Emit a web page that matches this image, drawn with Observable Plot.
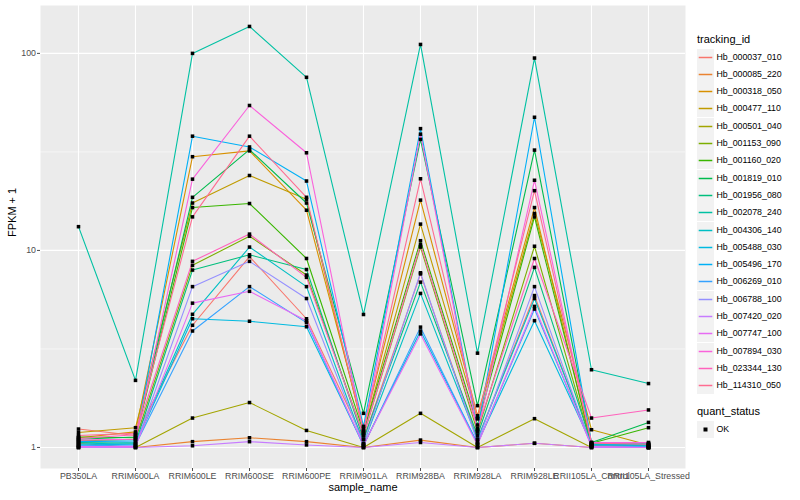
<!DOCTYPE html>
<html><head><meta charset="utf-8">
<script src="https://cdn.jsdelivr.net/npm/d3@7"></script>
<script src="https://cdn.jsdelivr.net/npm/@observablehq/plot@0.6"></script>
<style>
body{margin:0;background:#fff;font-family:"Liberation Sans",Arial,Helvetica,sans-serif;}
#wrap{position:relative;width:800px;height:500px;overflow:hidden;}
#chart{position:absolute;left:0;top:0;}
.lg{position:absolute;color:#000;white-space:nowrap;}
.lt{font-size:11px;}
.li{font-size:8.8px;}
.key{position:absolute;width:17px;height:17px;background:#F2F2F2;}
</style></head><body>
<div id="wrap"><div id="chart"></div><div id="legend"></div></div>
<script>
const samples = ["PB350LA","RRIM600LA","RRIM600LE","RRIM600SE","RRIM600PE","RRIM901LA","RRIM928BA","RRIM928LA","RRIM928LE","RRII105LA_Control","RRII105LA_Stressed"];
const trackingIds = ["Hb_000037_010","Hb_000085_220","Hb_000318_050","Hb_000477_110","Hb_000501_040","Hb_001153_090","Hb_001160_020","Hb_001819_010","Hb_001956_080","Hb_002078_240","Hb_004306_140","Hb_005488_030","Hb_005496_170","Hb_006269_010","Hb_006788_100","Hb_007420_020","Hb_007747_100","Hb_007894_030","Hb_023344_130","Hb_114310_050"];
const colors = ["#F8766D","#EA8331","#D89000","#C09B00","#A3A500","#7CAE00","#39B600","#00BB4E","#00BF7D","#00C1A3","#00BFC4","#00BAE0","#00B0F6","#35A2FF","#9590FF","#C77CFF","#E76BF3","#FA62DB","#FF62BC","#FF6C91"];
// FPKM + 1, one row per tracking_id, columns follow `samples`
const fpkm1 = [
  [1.24, 1.15, 4.17, 9.3, 4.5, 1.10, 7.6, 1.10, 5.9, 1.02, 1.00],
  [1.05, 1.00, 1.07, 1.12, 1.07, 1.00, 1.09, 1.00, 1.05, 1.00, 1.00],
  [1.12, 1.20, 29.9, 32.0, 16.0, 1.25, 18.0, 1.45, 16.5, 1.02, 1.00],
  [1.19, 1.26, 17.4, 24.0, 18.2, 1.20, 13.6, 1.40, 15.4, 1.23, 1.03],
  [1.00, 1.00, 1.41, 1.69, 1.22, 1.00, 1.49, 1.00, 1.40, 1.00, 1.00],
  [1.08, 1.10, 8.4, 11.8, 7.5, 1.15, 10.4, 1.20, 10.5, 1.03, 1.02],
  [1.13, 1.12, 16.5, 17.3, 9.1, 1.20, 11.2, 1.30, 14.8, 1.05, 1.26],
  [1.10, 1.13, 18.6, 32.5, 17.4, 1.49, 36.6, 1.63, 32.3, 1.06, 1.34],
  [1.06, 1.05, 7.95, 9.5, 8.0, 1.10, 6.9, 1.15, 8.2, 1.04, 1.04],
  [13.2, 2.19, 100, 137, 75.6, 4.73, 111, 3.01, 94.7, 2.48, 2.11],
  [1.04, 1.06, 4.74, 10.4, 6.55, 1.05, 6.05, 1.10, 5.7, 1.03, 1.02],
  [1.03, 1.04, 4.5, 4.37, 4.1, 1.03, 3.9, 1.05, 4.4, 1.04, 1.03],
  [1.07, 1.08, 38.0, 33.5, 22.5, 1.28, 41.5, 1.23, 47.4, 1.05, 1.05],
  [1.02, 1.03, 3.9, 6.55, 4.3, 1.02, 4.08, 1.04, 5.04, 1.02, 1.01],
  [1.00, 1.02, 6.55, 8.8, 5.7, 1.04, 7.7, 1.06, 6.55, 1.01, 1.00],
  [1.00, 1.00, 1.02, 1.07, 1.03, 1.00, 1.06, 1.00, 1.05, 1.00, 1.00],
  [1.01, 1.01, 5.4, 6.2, 4.4, 1.03, 3.77, 1.03, 5.2, 1.01, 1.00],
  [1.09, 1.10, 23.0, 54.4, 31.3, 1.18, 38.9, 1.20, 22.7, 1.06, 1.06],
  [1.11, 1.16, 8.8, 12.1, 7.3, 1.15, 10.7, 1.25, 9.1, 1.41, 1.55],
  [1.15, 1.18, 14.8, 38.0, 18.6, 1.22, 23.1, 1.40, 20.1, 1.05, 1.04]
];
const yTicks = [1, 10, 100];
const yMinor = [Math.sqrt(10), Math.sqrt(1000)];

const rows = [];
trackingIds.forEach((id, i) => samples.forEach((s, j) => rows.push({id, sample: s, value: fpkm1[i][j]})));

const chart = Plot.plot({
  width: 690, height: 500,
  marginLeft: 40, marginRight: 5, marginTop: 5, marginBottom: 32,
  style: {fontFamily: "Liberation Sans, Arial, sans-serif", background: "transparent"},
  x: {type: "point", domain: samples, padding: 0.6, label: null},
  y: {type: "log", domain: [0.782, 175], label: null},
  color: {domain: trackingIds, range: colors},
  marks: [
    Plot.frame({fill: "#EBEBEB", stroke: "none"}),
    Plot.ruleY(yMinor, {stroke: "white", strokeWidth: 0.55}),
    Plot.ruleY(yTicks, {stroke: "white", strokeWidth: 1.1}),
    Plot.ruleX(samples, {stroke: "white", strokeWidth: 1.1}),
    Plot.line(rows, {x: "sample", y: "value", z: "id", stroke: "id", strokeWidth: 1.1}),
    Plot.dot(rows, {x: "sample", y: "value", symbol: "square", r: 2, fill: "black", stroke: "none"}),
    Plot.axisY({ticks: yTicks, tickFormat: d => String(d), tickSize: 3, tickPadding: 1.5, fontSize: 8.8, color: "#4D4D4D", label: null}),
    Plot.axisX({tickSize: 3, tickPadding: 1.5, fontSize: 8.8, color: "#4D4D4D", label: null}),
    Plot.text(["FPKM + 1"], {text: d => d, frameAnchor: "left", dx: -28, rotate: -90, fontSize: 11, fill: "black"}),
    Plot.text(["sample_name"], {text: d => d, frameAnchor: "bottom", dy: 22.5, fontSize: 11, fill: "black"})
  ]
});
document.getElementById("chart").appendChild(chart);

// legend
const lg = document.getElementById("legend");
function add(html, cls, left, top) {
  const d = document.createElement("div");
  d.className = cls; d.style.left = left + "px"; d.style.top = top + "px";
  d.innerHTML = html; lg.appendChild(d); return d;
}
add("tracking_id", "lg lt", 697, 33);
trackingIds.forEach((id, i) => {
  const top = 48.5 + i * 17.3;
  add(`<svg width="17" height="17"><line x1="1.7" x2="15.3" y1="8.5" y2="8.5" stroke="${colors[i]}" stroke-width="1.5"/></svg>`, "key", 696.5, top);
  add(id, "lg li", 716.5, top + 3);
});
add("quant_status", "lg lt", 697, 405);
add(`<svg width="17" height="17"><rect x="6.5" y="6.5" width="4" height="4" fill="black"/></svg>`, "key", 696.5, 420.5);
add("OK", "lg li", 716.5, 423.5);
</script></body></html>
